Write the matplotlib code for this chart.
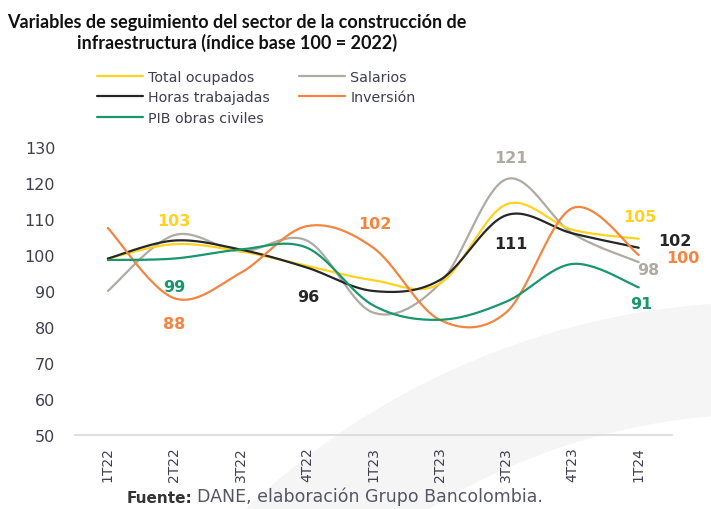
import numpy as np
import matplotlib.pyplot as plt
from matplotlib.patches import Wedge

quarters = ['1T22', '2T22', '3T22', '4T22', '1T23', '2T23', '3T23', '4T23', '1T24']
ocupados = [99, 103, 101, 97, 93, 92, 114, 107, 104.5]
salarios = [90, 105.5, 101, 104, 84, 92, 121, 106, 98]
horas = [99, 104, 101.5, 96.5, 90, 93, 111, 106, 102]
inversion = [107.5, 88, 95, 108, 102, 82, 84, 113, 100]
pib = [98.6, 99, 101.5, 102, 86, 82, 87, 97.5, 91]

YELLOW = '#FFD21F'
GRAY = '#AFABA3'
BLACK = '#262626'
ORANGE = '#F4843F'
GREEN = '#17976A'
TXT = '#3f3f4f'

# (quarter index, text, x offset, y position, colour)
labels = [
    (1, '103', 0, 109.5, YELLOW),
    (1, '99', 0, 91.2, GREEN),
    (1, '88', 0, 81, ORANGE),
    (3, '96', 0.02, 88.4, BLACK),
    (4, '102', 0.03, 108.6, ORANGE),
    (6, '121', 0.08, 127, GRAY),
    (6, '111', 0.08, 103.1, BLACK),
    (7, '105', 1.02, 110.8, YELLOW),
    (7, '102', 1.55, 104.0, BLACK),
    (7, '100', 1.66, 99.2, ORANGE),
    (7, '98', 1.15, 95.9, GRAY),
    (7, '91', 1.04, 86.4, GREEN),
]


def smooth(y, n=30):
    # excel style smoothed line (catmull-rom through the points)
    y = np.asarray(y, dtype=float)
    x = np.arange(len(y), dtype=float)
    px = np.concatenate([[x[0]], x, [x[-1]]])
    py = np.concatenate([[y[0]], y, [y[-1]]])
    xs, ys = [], []
    t = np.linspace(0, 1, n)
    for i in range(1, len(px) - 2):
        p0 = np.array([px[i], py[i]])
        p3 = np.array([px[i + 1], py[i + 1]])
        p1 = p0 + (p3 - np.array([px[i - 1], py[i - 1]])) / 6
        p2 = p3 - (np.array([px[i + 2], py[i + 2]]) - p0) / 6
        b = ((1 - t) ** 3)[:, None] * p0 + (3 * (1 - t) ** 2 * t)[:, None] * p1 \
            + (3 * (1 - t) * t ** 2)[:, None] * p2 + (t ** 3)[:, None] * p3
        xs.extend(b[:, 0])
        ys.extend(b[:, 1])
    return np.array(xs), np.array(ys)


fig = plt.figure(figsize=(7.11, 5.10), dpi=100)

# faint watermark in the background
bg = fig.add_axes([0, 0, 1, 1], zorder=0)
bg.set_xlim(0, 711)
bg.set_ylim(510, 0)
bg.axis('off')
bg.add_patch(Wedge((765, 1058), 755, 180, 300, width=112, color='#f5f5f5', lw=0))

ax = fig.add_axes([0.105, 0.145, 0.84, 0.565], zorder=1)
ax.patch.set_alpha(0)

series = [
    (ocupados, YELLOW, 'Total ocupados'),
    (horas, BLACK, 'Horas trabajadas'),
    (pib, GREEN, 'PIB obras civiles'),
    (salarios, GRAY, 'Salarios'),
    (inversion, ORANGE, 'Inversión'),
]
order = [3, 0, 1, 4, 2]
handles = {}
for k in order:
    vals, col, name = series[k]
    xs, ys = smooth(vals)
    line, = ax.plot(xs, ys, color=col, lw=1.6, label=name, solid_capstyle='round')
    handles[k] = line

for i, txt, dx, ypos, col in labels:
    ax.text(i + dx, ypos, txt, color=col, fontsize=11.5, fontweight='bold',
            ha='center', va='center')

ax.set_xlim(-0.5, 8.5)
ax.set_ylim(50, 130)
ax.set_yticks(range(50, 131, 10))
ax.set_xticks(range(len(quarters)))
ax.set_xticklabels(quarters, rotation=90)
for s in ['top', 'right', 'left']:
    ax.spines[s].set_visible(False)
ax.spines['bottom'].set_color('#d9d9d9')
ax.spines['bottom'].set_linewidth(1.2)
ax.tick_params(axis='y', length=0, pad=14, labelsize=11.5, labelcolor=TXT)
ax.tick_params(axis='x', length=0, pad=8, labelsize=10, labelcolor=TXT)

fig.legend([handles[k] for k in range(5)], [series[k][2] for k in range(5)],
           loc='upper left', bbox_to_anchor=(0.118, 0.886), ncol=2,
           frameon=False, fontsize=10.3, handlelength=3.2, handletextpad=0.35,
           columnspacing=2.1, labelspacing=0.45, labelcolor=TXT)

fig.text(0.333, 0.972, 'Variables de seguimiento del sector de la construcción de\n'
         'infraestructura (índice base 100 = 2022)', ha='center', va='top',
         fontsize=13, fontweight='bold', family='Lato', color='#111111',
         linespacing=1.2)

fig.text(0.178, 0.008, 'Fuente:', fontsize=11, fontweight='bold', color='#333333',
         ha='left', va='bottom')
fig.text(0.277, 0.008, 'DANE, elaboración Grupo Bancolombia.', fontsize=12.5,
         color='#555566', ha='left', va='bottom')

fig.savefig('out.png', dpi=100)
